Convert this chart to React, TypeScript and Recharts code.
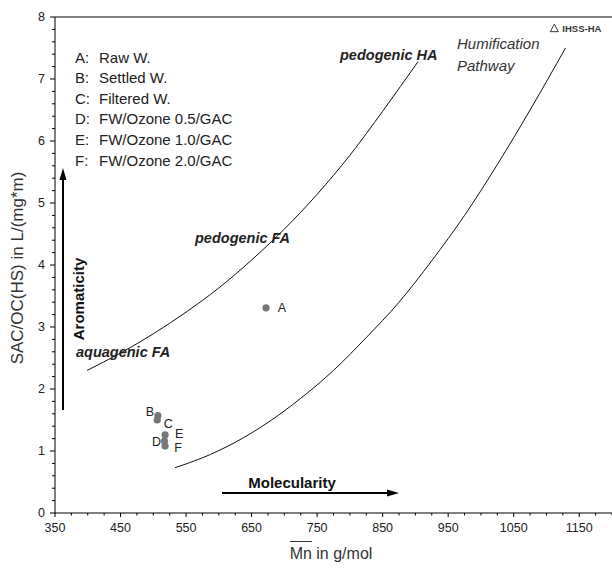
import React from "react";
import {
  ComposedChart,
  Scatter,
  XAxis,
  YAxis,
  ReferenceLine,
} from "recharts";

// humification pathway borders (Mn in g/mol vs SAC/OC)
const upperMn = [399, 450, 500, 550, 600, 650, 700, 750, 800, 850, 904];
const upperSac = [2.3, 2.58, 2.89, 3.24, 3.63, 4.08, 4.58, 5.14, 5.77, 6.48, 7.28];
const lowerMn = [533, 575, 625, 675, 725, 775, 825, 875, 925, 975, 1025, 1075, 1129];
const lowerSac = [0.73, 0.89, 1.14, 1.46, 1.85, 2.3, 2.83, 3.4, 4.07, 4.8, 5.62, 6.5, 7.5];

// samples
const sampleCodes = ["A", "B", "C", "D", "E", "F"];
const sampleNames = [
  "Raw W.",
  "Settled W.",
  "Filtered W.",
  "FW/Ozone 0.5/GAC",
  "FW/Ozone 1.0/GAC",
  "FW/Ozone 2.0/GAC",
];
const sampleMn = [672, 507, 506, 517, 518, 518];
const sampleSac = [3.31, 1.57, 1.5, 1.16, 1.26, 1.08];

// reference humic acid
const refNames = ["IHSS-HA"];
const refMn = [1112];
const refSac = [7.82];

const xMajor = [350, 450, 550, 650, 750, 850, 950, 1050, 1150];

const upperData = upperMn.map((mn, i) => ({ mn, sac: upperSac[i] }));
const lowerData = lowerMn.map((mn, i) => ({ mn, sac: lowerSac[i] }));
const sampleData = sampleCodes.map((code, i) => ({
  code,
  mn: sampleMn[i],
  sac: sampleSac[i],
}));
const refData = refNames.map((name, i) => ({ name, mn: refMn[i], sac: refSac[i] }));

// minor ticks: 25 g/mol and 0.2 steps
const xTicks: number[] = [];
for (let v = 350; v <= 1200; v += 25) xTicks.push(v);
const yTicks: number[] = [];
for (let i = 0; i <= 40; i++) yTicks.push(Math.round(i * 2) / 10);

const font = "Arial, 'Liberation Sans', sans-serif";

const labelOffset: Record<string, [number, number]> = {
  A: [16, 0],
  B: [-8, -4],
  C: [11, 4],
  D: [-8, 1],
  E: [14, -1],
  F: [13, 2],
};

const XTick = (props: any) => {
  const { x, y, payload } = props;
  const major = xMajor.includes(payload.value);
  return (
    <g>
      <line x1={x} x2={x} y1={y} y2={y + (major ? 4 : 2.5)} stroke="#000" />
      {major && (
        <text
          x={x}
          y={y + 15}
          textAnchor="middle"
          dominantBaseline="central"
          fontSize={12.5}
          fontFamily={font}
          fill="#222"
        >
          {payload.value}
        </text>
      )}
    </g>
  );
};

const YTick = (props: any) => {
  const { x, y, payload } = props;
  const major = Number.isInteger(payload.value);
  return (
    <g>
      <line x1={x} x2={x - (major ? 5 : 3)} y1={y} y2={y} stroke="#000" />
      {major && (
        <text
          x={x - 10}
          y={y}
          textAnchor="end"
          dominantBaseline="central"
          fontSize={12.5}
          fontFamily={font}
          fill="#222"
        >
          {payload.value}
        </text>
      )}
    </g>
  );
};

const NoDot = () => <g />;

const SampleDot = (props: any) => {
  const { cx, cy, payload } = props;
  const [dx, dy] = labelOffset[payload.code] || [12, 0];
  return (
    <g>
      <circle cx={cx} cy={cy} r={3.6} fill="#777" />
      <text
        x={cx + dx}
        y={cy + dy}
        textAnchor="middle"
        dominantBaseline="central"
        fontSize={12.5}
        fontFamily={font}
        fill="#222"
      >
        {payload.code}
      </text>
    </g>
  );
};

const RefTriangle = (props: any) => {
  const { cx, cy, payload } = props;
  return (
    <g>
      <polygon
        points={`${cx},${cy - 4} ${cx - 4},${cy + 3.5} ${cx + 4},${cy + 3.5}`}
        fill="none"
        stroke="#333"
        strokeWidth={1}
      />
      <text
        x={cx + 8}
        y={cy}
        dominantBaseline="central"
        fontSize={9.5}
        fontWeight="bold"
        fontFamily={font}
        fill="#333"
      >
        {payload.name}
      </text>
    </g>
  );
};

const Overlay = () => (
  <svg
    width={612}
    height={568}
    style={{ position: "absolute", left: 0, top: 0, pointerEvents: "none" }}
  >
    {sampleCodes.map((code, i) => (
      <g key={code} fontFamily={font} fontSize={15} fill="#222">
        <text x={75} y={57 + i * 20.6} dominantBaseline="central">
          {code}:
        </text>
        <text x={99} y={57 + i * 20.6} dominantBaseline="central">
          {sampleNames[i]}
        </text>
      </g>
    ))}
    <g fontFamily={font} fontSize={14.5} fontWeight="bold" fontStyle="italic" fill="#222">
      <text x={340} y={55} dominantBaseline="central">pedogenic HA</text>
      <text x={195} y={238} dominantBaseline="central">pedogenic FA</text>
      <text x={76} y={352} dominantBaseline="central">aquagenic FA</text>
    </g>
    <g fontFamily={font} fontSize={15} fontStyle="italic" fill="#333">
      <text x={457} y={43} dominantBaseline="central">Humification</text>
      <text x={457} y={65} dominantBaseline="central">Pathway</text>
    </g>
    {/* Aromaticity arrow */}
    <line x1={63} x2={63} y1={410} y2={176} stroke="#000" strokeWidth={2} />
    <polygon points="63,168 59.5,180 66.5,180" fill="#000" />
    <text
      x={78}
      y={299}
      transform="rotate(-90 78 299)"
      textAnchor="middle"
      dominantBaseline="central"
      fontFamily={font}
      fontSize={15}
      fontWeight="bold"
      fill="#111"
    >
      Aromaticity
    </text>
    {/* Molecularity arrow */}
    <line x1={222} x2={390} y1={493} y2={493} stroke="#000" strokeWidth={2} />
    <polygon points="399,493 387,489.5 387,496.5" fill="#000" />
    <text
      x={292}
      y={482}
      textAnchor="middle"
      dominantBaseline="central"
      fontFamily={font}
      fontSize={15}
      fontWeight="bold"
      fill="#111"
    >
      Molecularity
    </text>
    {/* axis titles */}
    <text
      x={17}
      y={268}
      transform="rotate(-90 17 268)"
      textAnchor="middle"
      dominantBaseline="central"
      fontFamily={font}
      fontSize={17}
      fill="#333"
    >
      SAC/OC(HS) in L/(mg*m)
    </text>
    <text
      x={331}
      y={553}
      textAnchor="middle"
      dominantBaseline="central"
      fontFamily={font}
      fontSize={16}
      fill="#333"
    >
      Mn in g/mol
    </text>
    <line x1={290} x2={312} y1={541.5} y2={541.5} stroke="#333" strokeWidth={1} />
  </svg>
);

export default function App() {
  return (
    <div
      style={{
        position: "absolute",
        left: 0,
        top: 0,
        width: 612,
        height: 568,
        background: "#fff",
      }}
    >
      <ComposedChart
        width={612}
        height={568}
        margin={{ top: 17, right: 0, bottom: 0, left: 0 }}
      >
        <XAxis
          type="number"
          dataKey="mn"
          domain={[350, 1200]}
          ticks={xTicks}
          interval={0}
          tickSize={0}
          tickMargin={0}
          tickLine={false}
          tick={<XTick />}
          height={55}
          axisLine={{ stroke: "#000" }}
          allowDataOverflow
        />
        <YAxis
          type="number"
          dataKey="sac"
          domain={[0, 8]}
          ticks={yTicks}
          interval={0}
          tickSize={0}
          tickMargin={0}
          tickLine={false}
          tick={<YTick />}
          width={55}
          axisLine={{ stroke: "#000" }}
          allowDataOverflow
        />
        <ReferenceLine y={8} stroke="#000" />
        <Scatter
          data={upperData}
          line={{ stroke: "#111", strokeWidth: 1 }}
          lineJointType="monotoneX"
          shape={<NoDot />}
          isAnimationActive={false}
        />
        <Scatter
          data={lowerData}
          line={{ stroke: "#111", strokeWidth: 1 }}
          lineJointType="monotoneX"
          shape={<NoDot />}
          isAnimationActive={false}
        />
        <Scatter
          data={sampleData}
          shape={<SampleDot />}
          isAnimationActive={false}
        />
        <Scatter
          data={refData}
          shape={<RefTriangle />}
          isAnimationActive={false}
        />
      </ComposedChart>
      <Overlay />
    </div>
  );
}
